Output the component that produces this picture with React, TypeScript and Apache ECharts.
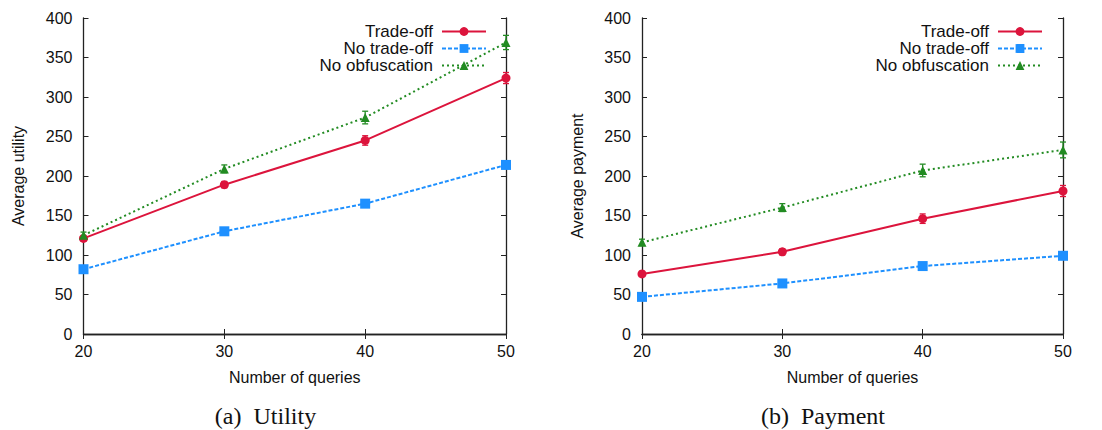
import React, { useEffect, useRef } from "react";
import * as echarts from "echarts";

const xQueries = [20, 30, 40, 50];
const seriesNames = ["Trade-off", "No trade-off", "No obfuscation"];

const utilTradeOff = [121, 189, 245, 324];
const utilNoTradeOff = [82, 130, 165, 214];
const utilNoObfuscation = [125, 209, 274, 369];
const utilTradeOffErr = [3, 4, 6, 7];
const utilNoTradeOffErr = [2, 2, 3, 2];
const utilNoObfuscationErr = [4, 5, 8, 9];

const payTradeOff = [76, 104, 146, 181];
const payNoTradeOff = [47, 64, 86, 99];
const payNoObfuscation = [116, 160, 207, 233];
const payTradeOffErr = [3, 4, 6, 7];
const payNoTradeOffErr = [2, 2, 2, 2];
const payNoObfuscationErr = [4, 5, 8, 10];

const yTicks = [0, 50, 100, 150, 200, 250, 300, 350, 400];

const COLORS = ["#dc143c", "#1e90ff", "#228b22"];
const LINE_TYPES: any[] = ["solid", [4, 2], [2, 3]];
const SYMBOLS = ["circle", "rect", "triangle"];
const SYMBOL_SIZES = [9, 10, 9];
const FONT = "'Liberation Sans', Arial, Helvetica, sans-serif";

function pairs(vals: number[]) {
  return xQueries.map((x, i) => [x, vals[i]]);
}
function errTriples(vals: number[], errs: number[]) {
  return xQueries.map((x, i) => [x, vals[i], errs[i]]);
}

export default function App() {
  const ref = useRef<HTMLDivElement>(null);
  useEffect(() => {
    if (!ref.current) return;
    const chart = echarts.init(ref.current, undefined, { renderer: "svg" });

    const grids = [
      { left: 83.5, right: 596, top: 18, bottom: 96 },
      { left: 642, right: 39, top: 18, bottom: 96 },
    ];
    const yNames = ["Average utility", "Average payment"];
    const data = [
      [utilTradeOff, utilNoTradeOff, utilNoObfuscation],
      [payTradeOff, payNoTradeOff, payNoObfuscation],
    ];
    const errs = [
      [utilTradeOffErr, utilNoTradeOffErr, utilNoObfuscationErr],
      [payTradeOffErr, payNoTradeOffErr, payNoObfuscationErr],
    ];

    const axisLine = { show: true, lineStyle: { color: "#222", width: 1.3 } };
    const tick = { show: true, inside: true, length: 5, lineStyle: { color: "#222", width: 1 } };

    const xAxes: any[] = [];
    const yAxes: any[] = [];
    grids.forEach((_, g) => {
      xAxes.push({
        type: "value", gridIndex: g, min: 20, max: 50, interval: 10, position: "bottom",
        axisLine, axisTick: tick, splitLine: { show: false },
        axisLabel: { color: "#111", fontSize: 16, fontFamily: FONT, margin: 9 },
        name: "Number of queries", nameLocation: "middle", nameGap: 35,
        nameTextStyle: { color: "#111", fontSize: 16, fontFamily: FONT },
      });
      xAxes.push({
        type: "value", gridIndex: g, min: 20, max: 50, interval: 10, position: "top",
        axisLine, axisTick: tick, splitLine: { show: false }, axisLabel: { show: false },
      });
      yAxes.push({
        type: "value", gridIndex: g, min: 0, max: 400, interval: 50, position: "left",
        axisLine, axisTick: tick, splitLine: { show: false },
        axisLabel: { color: "#111", fontSize: 16, fontFamily: FONT, margin: 11,
          formatter: (v: number) => (yTicks.includes(v) ? String(v) : "") },
        name: yNames[g], nameLocation: "middle", nameGap: 57,
        nameTextStyle: { color: "#111", fontSize: 16, fontFamily: FONT },
      });
      yAxes.push({
        type: "value", gridIndex: g, min: 0, max: 400, interval: 50, position: "right",
        axisLine, axisTick: tick, splitLine: { show: false }, axisLabel: { show: false },
      });
    });

    const series: any[] = [];
    grids.forEach((_, g) => {
      for (let s = 0; s < 3; s++) {
        const color = COLORS[s];
        series.push({
          type: "custom",
          xAxisIndex: g * 2,
          yAxisIndex: g * 2,
          z: 1,
          silent: true,
          data: errTriples(data[g][s], errs[g][s]),
          renderItem: (params: any, api: any) => {
            const x = api.value(0);
            const y = api.value(1);
            const e = api.value(2);
            const top = api.coord([x, y + e]);
            const bot = api.coord([x, y - e]);
            const hw = 3;
            const st = { stroke: color, lineWidth: 1.3 };
            return {
              type: "group",
              children: [
                { type: "line", shape: { x1: top[0], y1: top[1], x2: bot[0], y2: bot[1] }, style: st },
                { type: "line", shape: { x1: top[0] - hw, y1: top[1], x2: top[0] + hw, y2: top[1] }, style: st },
                { type: "line", shape: { x1: bot[0] - hw, y1: bot[1], x2: bot[0] + hw, y2: bot[1] }, style: st },
              ],
            };
          },
        });
        series.push({
          type: "line",
          name: seriesNames[s],
          xAxisIndex: g * 2,
          yAxisIndex: g * 2,
          z: 2,
          data: pairs(data[g][s]),
          symbol: SYMBOLS[s],
          symbolSize: SYMBOL_SIZES[s],
          showAllSymbol: true,
          lineStyle: { color, width: 2, type: LINE_TYPES[s] },
          itemStyle: { color },
        });
      }
    });

    const legendBase = {
      orient: "vertical",
      align: "right",
      top: 23,
      padding: 0,
      itemGap: 0,
      itemWidth: 44,
      itemHeight: 11,
      selectedMode: false,
      data: seriesNames,
      textStyle: { color: "#111", fontSize: 17, fontFamily: FONT, padding: [0, 4, 0, 0] },
    };

    chart.setOption({
      animation: false,
      backgroundColor: "#ffffff",
      grid: grids,
      xAxis: xAxes,
      yAxis: yAxes,
      legend: [
        { ...legendBase, right: 615 },
        { ...legendBase, right: 59 },
      ],
      series,
      graphic: [
        {
          type: "text", x: 265.5, y: 416,
          style: { text: "(a)  Utility", fill: "#111", font: "24px 'Liberation Serif', 'DejaVu Serif', serif", align: "center", verticalAlign: "middle" },
        },
        {
          type: "text", x: 823, y: 416,
          style: { text: "(b)  Payment", fill: "#111", font: "24px 'Liberation Serif', 'DejaVu Serif', serif", align: "center", verticalAlign: "middle" },
        },
      ],
    });
    return () => chart.dispose();
  }, []);
  return (
    <div
      ref={ref}
      style={{ position: "absolute", left: 0, top: 0, width: 1102, height: 430 }}
    />
  );
}
